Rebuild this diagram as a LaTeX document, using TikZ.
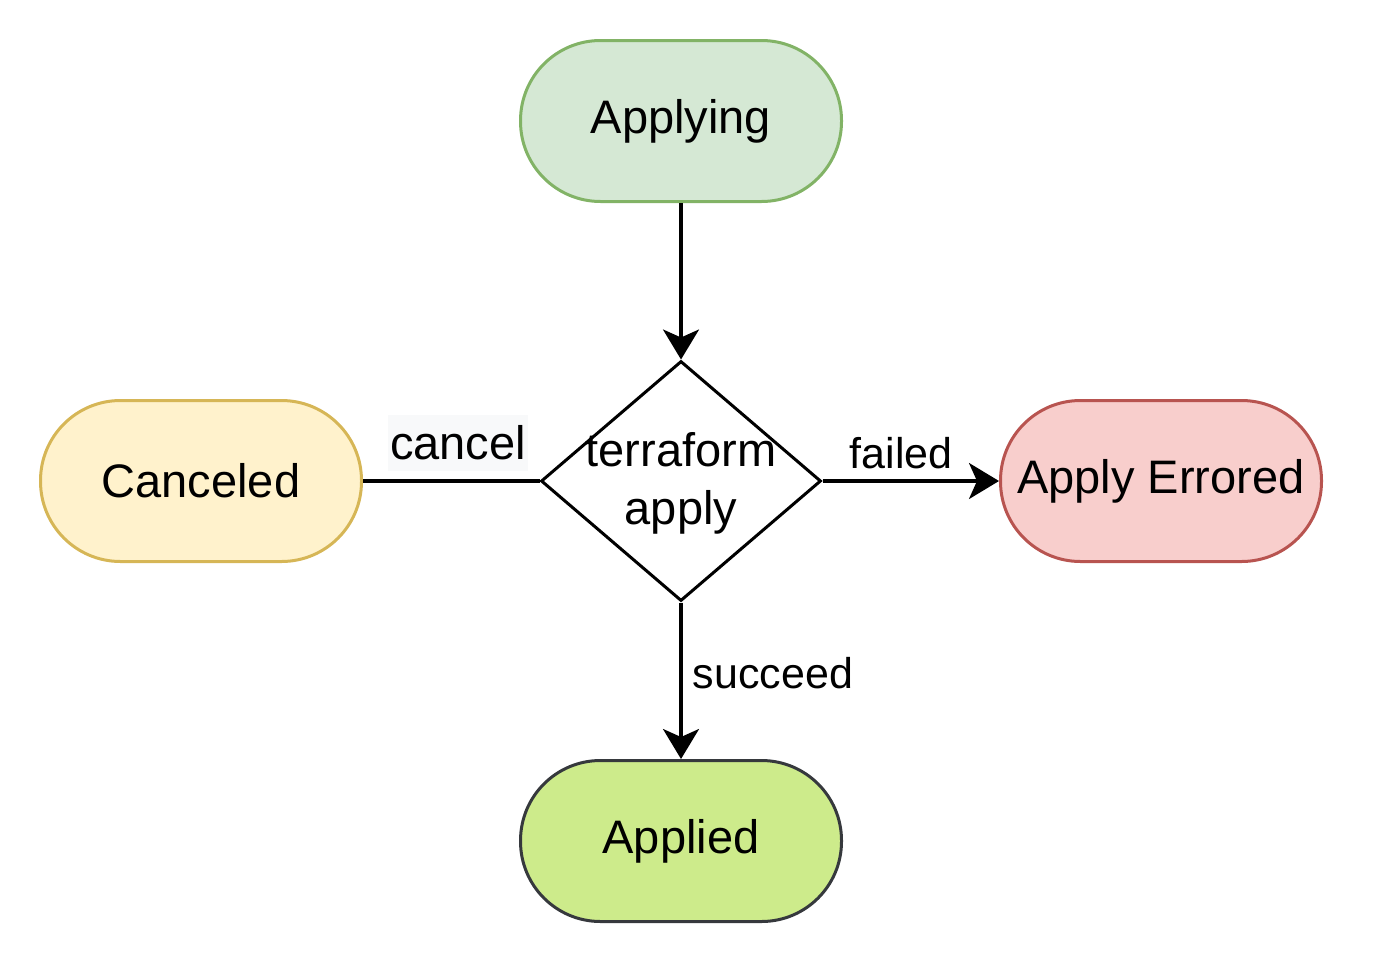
\documentclass[tikz,border=0pt]{standalone}
\usepackage{fontspec}
\setmainfont{Liberation Sans}
\usetikzlibrary{shapes.geometric,arrows.meta}
\definecolor{gfill}{HTML}{D5E8D4}\definecolor{gdraw}{HTML}{82B366}
\definecolor{yfill}{HTML}{FFF2CC}\definecolor{ydraw}{HTML}{D6B656}
\definecolor{rfill}{HTML}{F8CECC}\definecolor{rdraw}{HTML}{B85450}
\definecolor{lfill}{HTML}{CDEB8B}\definecolor{ldraw}{HTML}{36393D}
\definecolor{lblbg}{HTML}{F8F9FA}
\tikzset{
  stadium/.style={rectangle, rounded corners=40pt, minimum width=160.5pt, minimum height=80.5pt, line width=1.5pt, font=\fontsize{23.5}{28}\selectfont},
  dia/.style={diamond, draw=black, line width=1.5pt, minimum width=140pt, minimum height=120pt, inner sep=0pt},
  conn/.style={line width=1.6pt, draw=black},
  arr/.style={conn, -{Stealth[length=15pt, width=18pt, inset=4pt]}},
  elbl/.style={font=\fontsize{21.5}{26}\selectfont, inner sep=0pt},
}
\begin{document}
\begin{tikzpicture}[x=0.5pt,y=-0.5pt]
\useasboundingbox (0,0) rectangle (1396,964);
\node[stadium, fill=gfill, draw=gdraw] (applying) at (681,121) {Applying};
\node[stadium, fill=yfill, draw=ydraw] (canceled) at (201,481) {Canceled};
\node[stadium, fill=rfill, draw=rdraw] (errored) at (1161,481) {Apply Errored};
\node[stadium, fill=lfill, draw=ldraw] (applied) at (681,841) {Applied};
\node[dia] (tf) at (681,481) {};
\node[font=\fontsize{23.5}{29}\selectfont, align=center, inner sep=0pt] (tftext) at (681,483) {terraform\\apply};
\draw[arr] (applying.south) -- (tf.north);
\draw[conn] (tf.west) -- (canceled.east);
\draw[arr] (tf.east) -- (errored.west);
\draw[arr] (tf.south) -- (applied.north);
\node[fill=lblbg, font=\fontsize{23.5}{28}\selectfont, inner xsep=1pt, inner ysep=0pt, minimum height=28pt] (lcancel) at (458,443) {cancel};
\node[elbl] (lfailed) at (901,453) {failed};
\node[elbl] (lsucceed) at (773,673) {succeed};
\end{tikzpicture}
\end{document}
